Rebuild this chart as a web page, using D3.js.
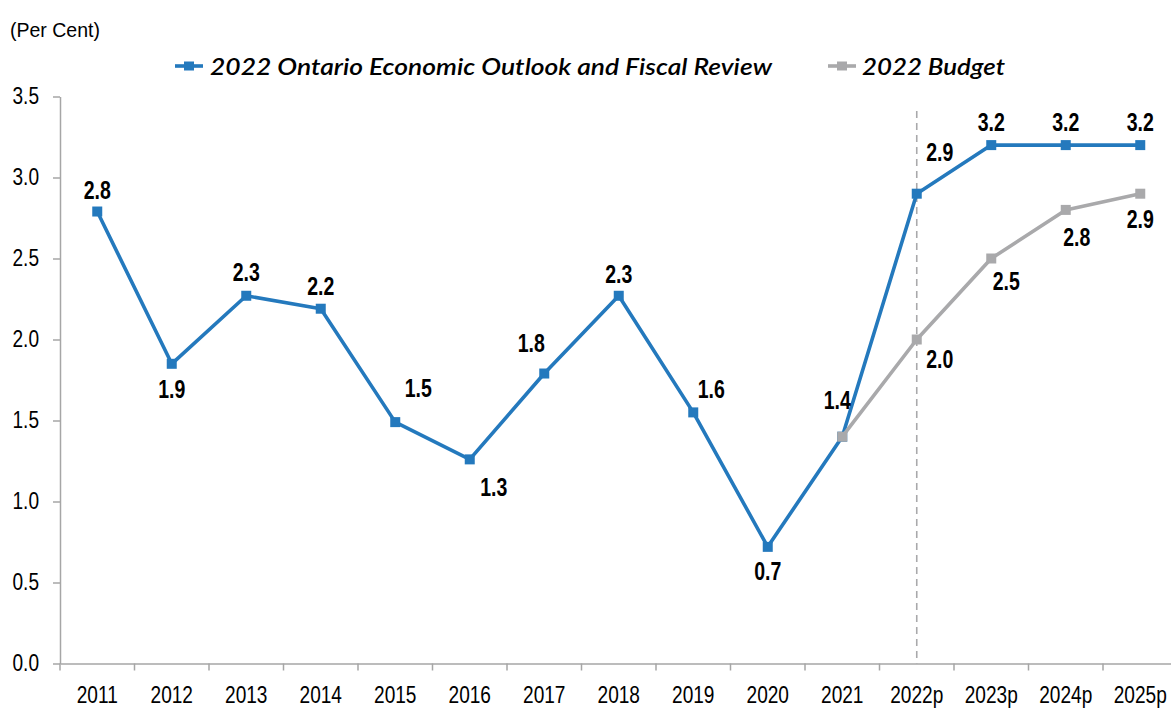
<!DOCTYPE html>
<html>
<head>
<meta charset="utf-8">
<script src="https://cdn.jsdelivr.net/npm/d3@7"></script>
<style>
  html, body { margin: 0; padding: 0; background: #fff; }
  svg { display: block; }
  .narrow { font-family: "Liberation Sans", Arial, sans-serif; }
</style>
</head>
<body>
<svg id="chart" width="1171" height="709"></svg>
<script>
// Real GDP growth, Ontario (per cent)
const years = ["2011","2012","2013","2014","2015","2016","2017","2018","2019","2020","2021","2022p","2023p","2024p","2025p"];
const fallOutlook = [2.79, 1.85, 2.27, 2.19, 1.49, 1.26, 1.79, 2.27, 1.55, 0.72, 1.40, 2.90, 3.20, 3.20, 3.20];
const fallLabels  = ["2.8","1.9","2.3","2.2","1.5","1.3","1.8","2.3","1.6","0.7","1.4","2.9","3.2","3.2","3.2"];
const budgetYears = ["2021","2022p","2023p","2024p","2025p"];
const budget      = [1.40, 2.00, 2.50, 2.80, 2.90];
const budgetLabels = [null, "2.0", "2.5", "2.8", "2.9"];
const yTicks = [0, 0.5, 1.0, 1.5, 2.0, 2.5, 3.0, 3.5];
const seriesNames = ["2022 Ontario Economic Outlook and Fiscal Review", "2022 Budget"];

// label offsets from each marker (dx, dy to text centre)
const fallOffsets = [[0,-22],[0,25],[0,-24],[0,-23],[23,-34],[24,28],[-13,-31],[0,-22],[18,-23],[0,24],[-5,-37],[23,-42],[0,-23],[0,-23],[0,-23]];
const budgetOffsets = [null,[23,19],[15,22],[11,27],[0,25]];

const BLUE = "#2479bd";
const GREY = "#a9a9ab";
const AXIS = "#a6a6a6";
const TICK_SX = 0.83;   // condensed tick lettering
const LABEL_SX = 0.78;  // condensed value labels

const svg = d3.select("#chart");
const plotLeft = 60, plotRight = 1177.5, plotTop = 96.5, plotBottom = 663.5;

const x = d3.scaleBand().domain(years).range([plotLeft, plotRight]).padding(0);
const y = d3.scaleLinear().domain([0, 3.5]).range([plotBottom, plotTop]);
const cx = d => x(d) + x.bandwidth() / 2;

// y axis
const yAxis = svg.append("g")
  .attr("transform", `translate(${plotLeft},0)`)
  .call(d3.axisLeft(y).tickValues(yTicks).tickFormat(d3.format(".1f")).tickSize(7).tickSizeOuter(0));
yAxis.select(".domain").attr("stroke", AXIS).attr("stroke-width", 1.5);
yAxis.selectAll(".tick line").attr("stroke", AXIS).attr("stroke-width", 1.5);
yAxis.selectAll(".tick text")
  .attr("class", "narrow")
  .attr("x", -21 / TICK_SX)
  .attr("transform", `scale(${TICK_SX},1)`)
  .attr("fill", "#000")
  .style("font-size", "23px");

// x axis with ticks at category boundaries
const xAxis = svg.append("g")
  .attr("transform", `translate(0,${plotBottom})`)
  .call(d3.axisBottom(x).tickSize(0).tickSizeOuter(0));
xAxis.select(".domain").attr("stroke", AXIS).attr("stroke-width", 1.5);
xAxis.selectAll(".tick text")
  .attr("class", "narrow")
  .attr("y", 23)
  .attr("transform", `scale(${TICK_SX},1)`)
  .attr("fill", "#000")
  .style("font-size", "23px");
svg.append("g").selectAll("line")
  .data(years)
  .join("line")
  .attr("x1", d => x(d)).attr("x2", d => x(d))
  .attr("y1", plotBottom).attr("y2", plotBottom + 7)
  .attr("stroke", AXIS).attr("stroke-width", 1.5);

// projection divider
svg.append("line")
  .attr("x1", cx("2022p")).attr("x2", cx("2022p"))
  .attr("y1", y(3.41)).attr("y2", plotBottom)
  .attr("stroke", GREY).attr("stroke-width", 1.6)
  .attr("stroke-dasharray", "7,5");

// series lines
const fallData = years.map((yr, i) => ({ yr, v: fallOutlook[i], label: fallLabels[i], off: fallOffsets[i] }));
const budgetData = budgetYears.map((yr, i) => ({ yr, v: budget[i], label: budgetLabels[i], off: budgetOffsets[i] }));
const line = d3.line().x(d => cx(d.yr)).y(d => y(d.v));

svg.append("path").datum(fallData)
  .attr("d", line).attr("fill", "none")
  .attr("stroke", BLUE).attr("stroke-width", 3.6).attr("stroke-linejoin", "round");
svg.append("g").selectAll("rect").data(fallData).join("rect")
  .attr("x", d => cx(d.yr) - 5).attr("y", d => y(d.v) - 5)
  .attr("width", 10).attr("height", 10).attr("fill", BLUE);

svg.append("path").datum(budgetData)
  .attr("d", line).attr("fill", "none")
  .attr("stroke", GREY).attr("stroke-width", 3.6).attr("stroke-linejoin", "round");
svg.append("g").selectAll("rect").data(budgetData).join("rect")
  .attr("x", d => cx(d.yr) - 5).attr("y", d => y(d.v) - 5)
  .attr("width", 10).attr("height", 10).attr("fill", GREY);

// value labels
function labels(data) {
  svg.append("g").selectAll("text").data(data.filter(d => d.label)).join("text")
    .attr("class", "narrow")
    .attr("transform", d => `translate(${cx(d.yr) + d.off[0]},${y(d.v) + d.off[1]}) scale(${LABEL_SX},1)`)
    .attr("text-anchor", "middle")
    .attr("dy", "0.36em")
    .style("font-size", "25px")
    .style("font-weight", "bold")
    .attr("fill", "#000")
    .text(d => d.label);
}
labels(fallData);
labels(budgetData);

// unit label
svg.append("text")
  .attr("class", "narrow")
  .attr("x", 10).attr("y", 37)
  .style("font-size", "19.5px")
  .text("(Per Cent)");

// legend
const legend = [
  { name: seriesNames[0], color: BLUE, x0: 175, tx: 210, tw: 562 },
  { name: seriesNames[1], color: GREY, x0: 828, tx: 862, tw: 143 }
];
const lg = svg.append("g").selectAll("g").data(legend).join("g");
lg.append("line")
  .attr("x1", d => d.x0).attr("x2", d => d.x0 + 28)
  .attr("y1", 66).attr("y2", 66)
  .attr("stroke", d => d.color).attr("stroke-width", 3.6);
lg.append("rect")
  .attr("x", d => d.x0 + 9).attr("y", 61.5)
  .attr("width", 10).attr("height", 9).attr("fill", d => d.color);
lg.append("text")
  .attr("x", d => d.tx).attr("y", 75)
  .attr("textLength", d => d.tw).attr("lengthAdjust", "spacingAndGlyphs")
  .style("font-family", "Lato, 'Open Sans', sans-serif")
  .style("font-style", "italic")
  .style("font-weight", "600")
  .style("font-size", "22px")
  .attr("fill", "#000")
  .text(d => d.name);
</script>
</body>
</html>
